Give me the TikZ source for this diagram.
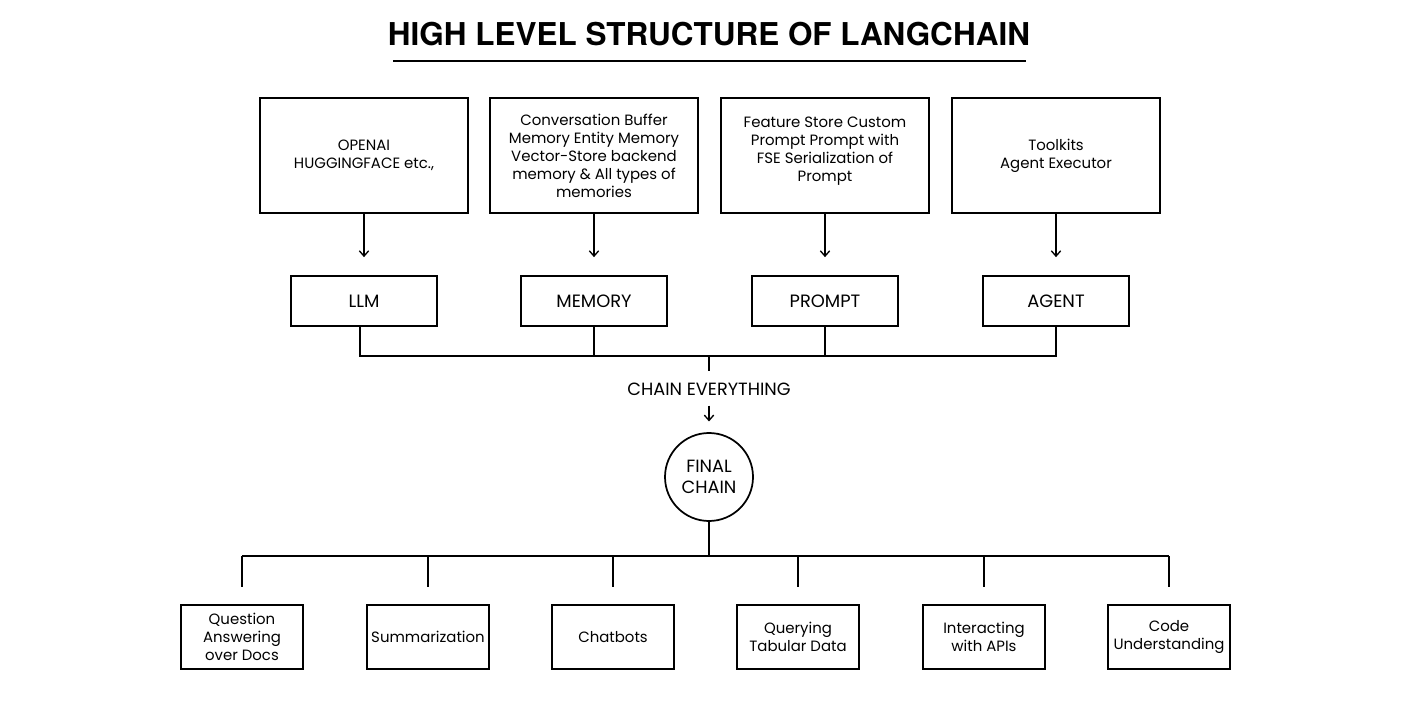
\documentclass[tikz,border=0pt]{standalone}
\usepackage{fontspec}
\setmainfont{Poppins}
\newfontfamily\titlefont{TeX Gyre Heros}
\usetikzlibrary{arrows.meta}
\begin{document}
\begin{tikzpicture}[x=0.75pt,y=-0.75pt,
  line width=1.3pt,
  topbox/.style={draw, line width=1.3pt, minimum width=156pt, minimum height=86pt, align=center, inner sep=2pt, font=\fontsize{11.2}{13.5}\selectfont},
  midbox/.style={draw, line width=1.3pt, minimum width=109.5pt, minimum height=37.5pt, align=center, font=\fontsize{13.4}{15}\selectfont},
  botbox/.style={draw, line width=1.3pt, minimum width=91.5pt, minimum height=48pt, align=center, inner sep=1pt, font=\fontsize{11.2}{13.5}\selectfont},
  arr/.style={-{Straight Barb[length=4pt,width=7pt]}, line width=1pt},
  conn/.style={line width=1pt}]
\useasboundingbox (0,0) rectangle (1417,723);
% title
\node[font=\titlefont\bfseries\fontsize{23.6}{25}\selectfont] (title) at (709,34) {HIGH LEVEL STRUCTURE OF LANGCHAIN};
\coordinate (ul1) at (393,61);
\coordinate (ul2) at (1026,61);
\draw[line width=1.5pt] (ul1) -- (ul2);
% top boxes
\node[topbox] (t1) at (364,155.5) {OPENAI\\HUGGINGFACE etc.,};
\node[topbox] (t2) at (594,155.5) {Conversation Buffer\\Memory Entity Memory\\Vector-Store backend\\memory \& All types of\\memories};
\node[topbox] (t3) at (825,155.5) {Feature Store Custom\\Prompt Prompt with\\FSE Serialization of\\Prompt\\[-4pt]};
\node[topbox] (t4) at (1056,155.5) {Toolkits\\Agent Executor};
% mid boxes
\node[midbox] (m1) at (364,301) {LLM};
\node[midbox] (m2) at (594,301) {MEMORY};
\node[midbox] (m3) at (825,301) {PROMPT};
\node[midbox] (m4) at (1056,301) {AGENT};
\foreach \i in {1,2,3,4}{
  \draw[arr] (t\i.south) -- ([yshift=13.5pt]m\i.north);
}
% join
\coordinate (j1) at (360,356);
\coordinate (j4) at (1056,356);
\coordinate (jc) at (709,356);
\draw[conn] (m1.south -| j1) -- (j1) -- (j4) -- (m4.south);
\draw[conn] (m2.south) -- (m2.south |- jc);
\draw[conn] (m3.south) -- (m3.south |- jc);
\node[font=\fontsize{13.3}{15}\selectfont, inner sep=0pt] (ce) at (709,389) {CHAIN EVERYTHING};
\draw[conn] (jc) -- ([yshift=8pt]ce.north);
\node[draw, circle, line width=1.3pt, minimum size=66pt, inner sep=0pt, align=center, font=\fontsize{13.3}{16}\selectfont] (fc) at (709,477) {FINAL\\CHAIN};
\draw[arr] ([yshift=-7pt]ce.south) -- ([yshift=8pt]fc.north);
% bottom
\coordinate (bc) at (709,556);
\draw[conn] (fc.south) -- (bc);
\node[botbox] (b1) at (242,637) {Question\\Answering\\over Docs};
\node[botbox] (b2) at (428,637) {Summarization};
\node[botbox] (b3) at (613,637) {Chatbots};
\node[botbox] (b4) at (798,637) {Querying\\Tabular Data};
\node[botbox] (b5) at (984,637) {Interacting\\with APIs};
\node[botbox] (b6) at (1169,637) {Code\\Understanding};
\draw[conn] (b1.north |- bc) -- (b6.north |- bc);
\foreach \i in {1,...,6}{
  \draw[conn] (b\i.north |- bc) -- ([yshift=12.75pt]b\i.north);
}
\end{tikzpicture}
\end{document}
